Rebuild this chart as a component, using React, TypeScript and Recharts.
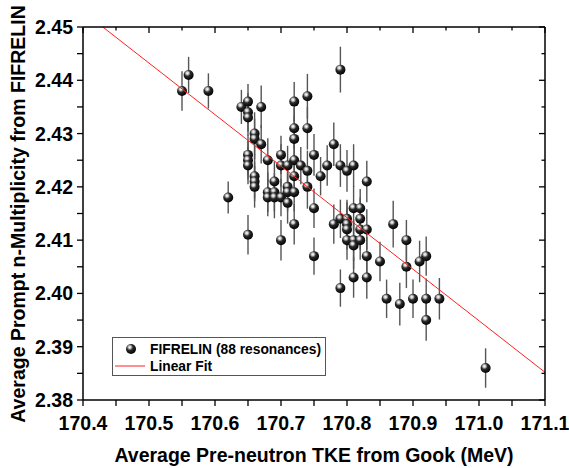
import React from 'react';
import { ScatterChart, Scatter, XAxis, YAxis, ErrorBar } from 'recharts';

const tkeValues = [170.55,170.56,170.59,170.62,170.64,170.65,170.65,170.65,170.65,170.65,170.65,170.65,170.66,170.66,170.66,170.66,170.66,170.67,170.67,170.68,170.68,170.68,170.69,170.69,170.69,170.70,170.70,170.70,170.70,170.71,170.71,170.71,170.71,170.72,170.72,170.72,170.72,170.72,170.72,170.72,170.73,170.74,170.74,170.74,170.74,170.75,170.75,170.75,170.76,170.77,170.78,170.78,170.79,170.79,170.79,170.79,170.80,170.80,170.80,170.80,170.80,170.81,170.81,170.81,170.81,170.81,170.82,170.82,170.82,170.82,170.83,170.83,170.83,170.83,170.85,170.86,170.87,170.88,170.89,170.89,170.90,170.91,170.92,170.92,170.92,170.94,171.01];
const nuValues = [2.438,2.441,2.438,2.418,2.435,2.436,2.434,2.433,2.426,2.425,2.424,2.411,2.430,2.429,2.422,2.421,2.420,2.435,2.428,2.425,2.419,2.418,2.421,2.419,2.418,2.426,2.424,2.418,2.410,2.424,2.420,2.419,2.417,2.436,2.431,2.429,2.425,2.422,2.419,2.413,2.424,2.437,2.431,2.423,2.420,2.426,2.416,2.407,2.422,2.424,2.428,2.413,2.442,2.424,2.414,2.401,2.423,2.414,2.413,2.412,2.410,2.424,2.416,2.410,2.409,2.403,2.416,2.414,2.412,2.410,2.421,2.412,2.407,2.403,2.406,2.399,2.413,2.398,2.410,2.405,2.399,2.406,2.407,2.399,2.395,2.399,2.386];
const nuErrors = [0.0037,0.0034,0.0033,0.0030,0.0032,0.0033,0.0036,0.0034,0.0038,0.0036,
  0.0035,0.0037,0.0040,0.0038,0.0041,0.0037,0.0039,0.0040,0.0036,0.0041,
  0.0037,0.0035,0.0038,0.0036,0.0039,0.0036,0.0040,0.0035,0.0038,0.0037,
  0.0041,0.0036,0.0039,0.0037,0.0039,0.0042,0.0037,0.0040,0.0036,0.0038,
  0.0035,0.0042,0.0040,0.0038,0.0041,0.0039,0.0037,0.0035,0.0036,0.0038,
  0.0041,0.0037,0.0043,0.0040,0.0036,0.0035,0.0039,0.0036,0.0041,0.0038,
  0.0037,0.0040,0.0042,0.0039,0.0044,0.0038,0.0036,0.0040,0.0038,0.0037,
  0.0039,0.0038,0.0036,0.0040,0.0037,0.0036,0.0044,0.0040,0.0038,0.0040,
  0.0036,0.0039,0.0037,0.0038,0.0039,0.0039,0.0037];

const fitTke = [170.43, 171.1];
const fitNu = [2.45, 2.3852];

const xMajorTicks = [170.4, 170.5, 170.6, 170.7, 170.8, 170.9, 171.0, 171.1];
const xMinorTicks = [170.45, 170.55, 170.65, 170.75, 170.85, 170.95, 171.05];
const yMajorTicks = [2.38, 2.39, 2.40, 2.41, 2.42, 2.43, 2.44, 2.45];
const yMinorTicks = [2.385, 2.395, 2.405, 2.415, 2.425, 2.435, 2.445];

const xLabel = 'Average Pre-neutron TKE from Gook (MeV)';
const yLabel = 'Average Prompt n-Multiplicity from FIFRELIN';
const seriesName = 'FIFRELIN (88 resonances)';
const fitName = 'Linear Fit';

const FONT = '"Liberation Sans", Arial, sans-serif';
const CHART_W = 569;
const CHART_H = 468;
const Y_AXIS_W = 83;
const X_AXIS_H = 68;
const MARGIN = { top: 27, right: 24, bottom: 0, left: 0 };
const X_DOMAIN: [number, number] = [170.4, 171.1];
const Y_DOMAIN: [number, number] = [2.38, 2.45];

// plot box implied by the chart margins and axis sizes above
const PLOT_L = MARGIN.left + Y_AXIS_W;
const PLOT_R = CHART_W - MARGIN.right;
const PLOT_T = MARGIN.top;
const PLOT_B = CHART_H - MARGIN.bottom - X_AXIS_H;
const px = (v: number) => PLOT_L + ((v - X_DOMAIN[0]) / (X_DOMAIN[1] - X_DOMAIN[0])) * (PLOT_R - PLOT_L);
const py = (v: number) => PLOT_B - ((v - Y_DOMAIN[0]) / (Y_DOMAIN[1] - Y_DOMAIN[0])) * (PLOT_B - PLOT_T);

const data = tkeValues.map((t, i) => ({ tke: t, nu: nuValues[i], err: nuErrors[i] }));
const fitData = fitTke.map((t, i) => ({ tke: t, nu: fitNu[i] }));

const xTicks = [...xMajorTicks, ...xMinorTicks].sort((a, b) => a - b);
const yTicks = [...yMajorTicks, ...yMinorTicks].sort((a, b) => a - b);
const isMajor = (v: number, arr: number[]) => arr.some((m) => Math.abs(m - v) < 1e-9);

const BottomTickLabel = (p: any) => {
  const v = p.payload.value;
  if (!isMajor(v, xMajorTicks)) return <g />;
  return (
    <text x={p.x} y={p.y + 24} textAnchor="middle" fontFamily={FONT} fontWeight="bold" fontSize={19.5} fill="#000">
      {v.toFixed(1)}
    </text>
  );
};
const LeftTickLabel = (p: any) => {
  const v = p.payload.value;
  if (!isMajor(v, yMajorTicks)) return <g />;
  return (
    <text x={p.x - 4} y={p.y + 7} textAnchor="end" fontFamily={FONT} fontWeight="bold" fontSize={19.5} fill="#000">
      {v.toFixed(2)}
    </text>
  );
};

const Ball = ({ cx, cy, r = 5 }: any) => {
  if (cx == null || cy == null) return <g />;
  return (
    <g>
      <defs>
        <radialGradient id="ballGrad" cx="0.38" cy="0.32" r="0.7">
          <stop offset="0%" stopColor="#ffffff" />
          <stop offset="18%" stopColor="#cfcfcf" />
          <stop offset="45%" stopColor="#2a2a2a" />
          <stop offset="100%" stopColor="#000000" />
        </radialGradient>
      </defs>
      <circle cx={cx} cy={cy} r={r} fill="url(#ballGrad)" />
    </g>
  );
};

const NoShape = () => <g />;

export default function App() {
  return (
    <div style={{ position: 'absolute', left: 0, top: 0, width: CHART_W, height: CHART_H, background: '#fff' }}>
      <ScatterChart width={CHART_W} height={CHART_H} margin={MARGIN}>
        <XAxis
          xAxisId="b"
          dataKey="tke"
          type="number"
          domain={X_DOMAIN}
          ticks={xTicks}
          interval={0}
          allowDataOverflow
          orientation="bottom"
          height={X_AXIS_H}
          tickSize={6}
          tickMargin={0}
          tickLine={{ stroke: '#000', strokeWidth: 1.3 }}
          axisLine={{ stroke: '#000', strokeWidth: 1.5 }}
          tick={<BottomTickLabel />}
          label={{
            content: () => (
              <text x={314} y={462} textAnchor="middle" fontFamily={FONT} fontWeight="bold" fontSize={19.5} fill="#000">
                {xLabel}
              </text>
            ),
          }}
        />
        <YAxis
          yAxisId="l"
          dataKey="nu"
          type="number"
          domain={Y_DOMAIN}
          ticks={yTicks}
          interval={0}
          allowDataOverflow
          orientation="left"
          width={Y_AXIS_W}
          tickSize={6}
          tickMargin={0}
          tickLine={{ stroke: '#000', strokeWidth: 1.3 }}
          axisLine={{ stroke: '#000', strokeWidth: 1.5 }}
          tick={<LeftTickLabel />}
          label={{
            content: () => (
              <text
                transform="translate(25,214) rotate(-90)"
                textAnchor="middle"
                fontFamily={FONT}
                fontWeight="bold"
                fontSize={19.5}
                fill="#000"
              >
                {yLabel}
              </text>
            ),
          }}
        />
        <Scatter
          name={seriesName}
          data={data}
          xAxisId="b"
          yAxisId="l"
          dataKey="nu"
          shape={<Ball />}
          isAnimationActive={false}
        >
          <ErrorBar dataKey="err" direction="y" width={0} stroke="#555" strokeWidth={1.4} isAnimationActive={false} />
        </Scatter>
        <Scatter
          name={fitName}
          data={fitData}
          xAxisId="b"
          yAxisId="l"
          dataKey="nu"
          line={{ stroke: '#ff2020', strokeWidth: 1 }}
          lineType="joint"
          shape={<NoShape />}
          isAnimationActive={false}
        />
      </ScatterChart>
      {/* top and right frame of the box with inward ticks */}
      <svg
        width={CHART_W}
        height={CHART_H}
        style={{ position: 'absolute', left: 0, top: 0, pointerEvents: 'none' }}
      >
        <line x1={PLOT_L} x2={PLOT_R} y1={PLOT_T} y2={PLOT_T} stroke="#000" strokeWidth={1.5} />
        <line x1={PLOT_R} x2={PLOT_R} y1={PLOT_T} y2={PLOT_B} stroke="#000" strokeWidth={1.5} />
        {xTicks.map((v) => (
          <line
            key={'tx' + v}
            x1={px(v)}
            x2={px(v)}
            y1={PLOT_T}
            y2={PLOT_T + (isMajor(v, xMajorTicks) ? 6 : 3.5)}
            stroke="#000"
            strokeWidth={1.3}
          />
        ))}
        {yTicks.map((v) => (
          <line
            key={'ry' + v}
            x1={PLOT_R}
            x2={PLOT_R - (isMajor(v, yMajorTicks) ? 6 : 3.5)}
            y1={py(v)}
            y2={py(v)}
            stroke="#000"
            strokeWidth={1.3}
          />
        ))}
      </svg>
      <svg
        width={214}
        height={39}
        style={{ position: 'absolute', left: 112, top: 337, overflow: 'visible' }}
      >
        <rect x={0.5} y={0.5} width={213} height={38} fill="#fff" stroke="#555" strokeWidth={1} />
        <Ball cx={19} cy={12} />
        <text x={38} y={17} fontFamily={FONT} fontWeight="bold" fontSize={13.8} fill="#000">
          {seriesName}
        </text>
        <line x1={3} x2={33} y1={29} y2={29} stroke="#ff2020" strokeWidth={1} />
        <text x={38} y={34} fontFamily={FONT} fontWeight="bold" fontSize={13.8} fill="#000">
          {fitName}
        </text>
      </svg>
    </div>
  );
}
